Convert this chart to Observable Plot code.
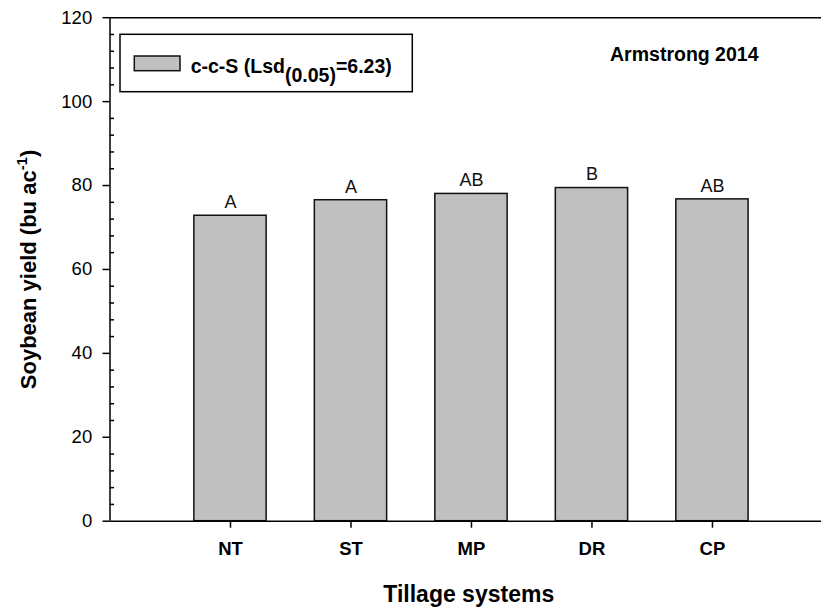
<!DOCTYPE html>
<html><head><meta charset="utf-8">
<script src="https://cdn.jsdelivr.net/npm/d3@7"></script>
<script src="https://cdn.jsdelivr.net/npm/@observablehq/plot@0.6"></script>
<style>body{margin:0;background:#fff} svg{display:block}</style>
</head><body><div id="chart"></div>
<script>
const categories = ["NT", "ST", "MP", "DR", "CP"];
const yields = [72.8, 76.5, 78.0, 79.4, 76.7];
const letters = ["A", "A", "AB", "B", "AB"];
const yTicks = [0, 20, 40, 60, 80, 100, 120];
const minorTicks = d3.range(4, 120, 4).filter(v => v % 20 !== 0);
const seriesName = "c-c-S (Lsd";
const lsdSub = "(0.05)";
const lsdValue = "=6.23)";
const siteTitle = "Armstrong 2014";
const xTitle = "Tillage systems";
const yTitle = "Soybean yield (bu ac";

const data = categories.map((c, i) => ({cat: c, pos: i + 1, yield: yields[i], letter: letters[i]}));
const FONT = "'Liberation Sans', Arial, Helvetica, sans-serif";

const chart = Plot.plot({
  width: 822, height: 607,
  marginLeft: 109.5, marginRight: 1, marginTop: 17.2, marginBottom: 86.3,
  style: {fontFamily: FONT, background: "#fff", color: "#000", overflow: "visible"},
  x: {type: "linear", domain: [0, 5.905], axis: null},
  y: {domain: [0, 120], axis: null},
  marks: [
    Plot.rectY(data, {x1: d => d.pos - 0.3, x2: d => d.pos + 0.3, y1: 0, y2: "yield", fill: "#c0c0c0", stroke: "#111", strokeWidth: 1.5}),
    Plot.text(data, {x: "pos", y: "yield", text: "letter", dy: -7.6, lineAnchor: "bottom", fontSize: 18, fill: "#111"}),
    Plot.axisY({ticks: yTicks, tickSize: 7, tickPadding: 10.8, fontSize: 18.5, strokeWidth: 1.5, label: null}),
    Plot.axisY({ticks: minorTicks, tickSize: -4.5, tickFormat: () => "", strokeWidth: 1.5, label: null}),
    Plot.axisX({ticks: data.map(d => d.pos), tickFormat: p => categories[p - 1], tickSize: 7, tickPadding: 14, fontSize: 18.5, fontWeight: "bold", strokeWidth: 1.5, label: null}),
    Plot.ruleY([0, 120], {strokeWidth: 1.5}),
    Plot.ruleX([0], {strokeWidth: 1.5}),
    Plot.text([xTitle], {frameAnchor: "bottom", textAnchor: "middle", lineAnchor: "bottom", dx: 3, dy: 81, fontSize: 23, fontWeight: "bold"}),
    Plot.text([yTitle], {frameAnchor: "left", textAnchor: "middle", rotate: -90, lineAnchor: "bottom", dx: -74.5, fontSize: 22, fontWeight: "bold"}),
    Plot.text([siteTitle], {frameAnchor: "top-right", textAnchor: "end", lineAnchor: "bottom", dx: -63, dy: 43.5, fontSize: 19.5, fontWeight: "bold"})
  ]
});
document.getElementById("chart").appendChild(chart);

const svg = d3.select(chart);
// superscript on y title
svg.selectAll("text").each(function() {
  if (this.textContent === yTitle) {
    const t = d3.select(this);
    t.append("tspan").attr("dy", -9).attr("font-size", 15).text("-1");
    t.append("tspan").attr("dy", 9).text(")");
  }
});
// legend
const lg = svg.append("g").attr("font-family", FONT).attr("text-anchor", "start");
lg.append("rect").attr("x", 120).attr("y", 34.3).attr("width", 292.3).attr("height", 57.4)
  .attr("fill", "#fff").attr("stroke", "#000").attr("stroke-width", 1.5);
lg.append("rect").attr("x", 134.3).attr("y", 56).attr("width", 45.7).attr("height", 14.7)
  .attr("fill", "#c0c0c0").attr("stroke", "#111").attr("stroke-width", 1.5);
const lt = lg.append("text").attr("x", 190.7).attr("y", 73.3).attr("text-anchor", "start")
  .attr("font-size", 19.5).attr("font-weight", "bold").text(seriesName);
lt.append("tspan").attr("dy", 8.4).text(lsdSub);
lt.append("tspan").attr("dy", -8.4).text(lsdValue);
</script>
</body></html>
